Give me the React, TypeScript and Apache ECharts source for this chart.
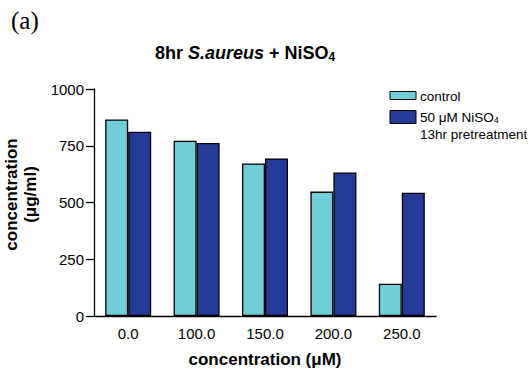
import React, { useEffect, useRef } from "react";
import * as echarts from "echarts";

const categories = ["0.0", "100.0", "150.0", "200.0", "250.0"];
const seriesNames = ["control", "50 μM NiSO4 13hr pretreatment"];
const controlValues = [866, 772, 672, 548, 142];
const nickelValues = [812, 762, 694, 632, 543];
const yTicks = [0, 250, 500, 750, 1000];

const CYAN = "#70CDDA";
const NAVY = "#253997";
const FONT = "'Liberation Sans', Arial, Helvetica, sans-serif";

export default function App() {
  const ref = useRef<HTMLDivElement>(null);
  useEffect(() => {
    if (!ref.current) return;
    const chart = echarts.init(ref.current, null, { renderer: "svg" });
    chart.setOption({
      animation: false,
      backgroundColor: "#ffffff",
      textStyle: { fontFamily: FONT, color: "#000" },
      title: {
        text: "8hr {i|S.aureus} + NiSO{s|4}",
        left: 150,
        top: 38,
        textStyle: {
          fontFamily: FONT,
          fontSize: 18,
          fontWeight: "bold",
          color: "#000",
          rich: {
            i: { fontFamily: FONT, fontSize: 18, fontWeight: "bold", fontStyle: "italic", color: "#000" },
            s: { fontFamily: FONT, fontSize: 12, fontWeight: "bold", color: "#000", verticalAlign: "bottom", padding: [8, 0, 0, 0] },
          },
        },
      },
      grid: { left: 94, right: 96, top: 89, bottom: 54, containLabel: false, outerBoundsMode: "none" },
      xAxis: {
        type: "category",
        data: categories,
        name: "concentration (μM)",
        nameLocation: "middle",
        nameGap: 35,
        nameTextStyle: { fontFamily: FONT, fontSize: 17, fontWeight: "bold", color: "#000" },
        axisLine: { lineStyle: { color: "#000", width: 1.3 } },
        axisTick: { show: false },
        axisLabel: { fontFamily: FONT, fontSize: 15, color: "#000", margin: 10 },
      },
      yAxis: {
        type: "value",
        min: yTicks[0],
        max: yTicks[yTicks.length - 1],
        interval: 250,
        name: "concentration\n(μg/ml)",
        nameLocation: "middle",
        nameGap: 53,
        nameTextStyle: {
          fontFamily: FONT,
          fontSize: 17,
          fontWeight: "bold",
          color: "#000",
          lineHeight: 19,
          padding: [0, 0, 0, 16],
        },
        splitLine: { show: false },
        axisLine: { show: true, lineStyle: { color: "#000", width: 1.3 } },
        axisTick: { show: true, length: 8, lineStyle: { color: "#000", width: 1.3 } },
        axisLabel: {
          fontFamily: FONT,
          fontSize: 15,
          color: "#000",
          margin: 10,
          formatter: (v: number) => String(v),
        },
      },
      series: [
        {
          name: seriesNames[0],
          type: "bar",
          data: controlValues,
          barWidth: 23,
          barGap: "0%",
          itemStyle: { color: CYAN, borderColor: "#000", borderWidth: 1.3 },
        },
        {
          name: seriesNames[1],
          type: "bar",
          data: nickelValues,
          barWidth: 23,
          barGap: "0%",
          itemStyle: { color: NAVY, borderColor: "#000", borderWidth: 1.3 },
        },
      ],
      graphic: [
        {
          type: "text",
          left: 11,
          top: 8,
          style: { text: "(a)", fontFamily: "'Liberation Serif', 'Times New Roman', serif", fontSize: 25, fill: "#000" },
        },
        {
          type: "rect",
          shape: { x: 390, y: 91.5, width: 26, height: 8 },
          style: { fill: CYAN, stroke: "#000", lineWidth: 1 },
        },
        {
          type: "text",
          x: 420,
          y: 96,
          style: { text: seriesNames[0], fontFamily: FONT, fontSize: 13.5, fill: "#000", verticalAlign: "middle" },
        },
        {
          type: "rect",
          shape: { x: 390, y: 110.5, width: 26, height: 13 },
          style: { fill: NAVY, stroke: "#000", lineWidth: 1 },
        },
        {
          type: "text",
          x: 420,
          y: 117,
          style: {
            text: "50 μM NiSO{s|4}",
            fontFamily: FONT,
            fontSize: 13.5,
            fill: "#000",
            verticalAlign: "middle",
            rich: { s: { fontFamily: FONT, fontSize: 9, fill: "#000", padding: [6, 0, 0, 0] } },
          },
        },
        {
          type: "text",
          x: 420,
          y: 134,
          style: { text: "13hr pretreatment", fontFamily: FONT, fontSize: 13.5, fill: "#000", verticalAlign: "middle" },
        },
      ],
    });
    return () => chart.dispose();
  }, []);
  return (
    <div
      ref={ref}
      style={{ position: "fixed", left: 0, top: 0, width: 532, height: 370 }}
    />
  );
}
